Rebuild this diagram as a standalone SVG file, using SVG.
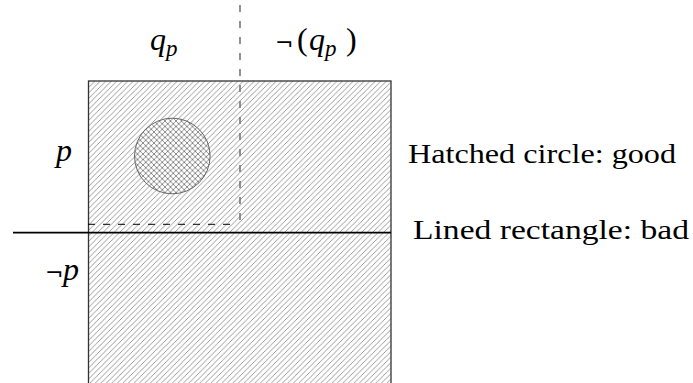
<svg xmlns="http://www.w3.org/2000/svg" width="693" height="383" viewBox="0 0 693 383">
<style>
.lbl{font-family:"Liberation Serif","DejaVu Serif",serif;font-size:28px;fill:#000}
.math{font-family:"Liberation Serif","DejaVu Serif",serif;font-style:italic;font-size:32px;fill:#000}
.up{font-style:normal}
.neg{font-family:"DejaVu Sans",sans-serif;font-style:normal;font-size:22px}
.sub{font-size:23px}
</style>
<defs>
<pattern id="hatch" patternUnits="userSpaceOnUse" width="5.5" height="5.5">
<path d="M-1,6.5 L6.5,-1 M-1,1 L1,-1 M4.5,6.5 L6.5,4.5" stroke="#888" stroke-width="0.85" fill="none"/>
</pattern>
<pattern id="cross" patternUnits="userSpaceOnUse" width="5.5" height="5.5">
<path d="M-1,6.5 L6.5,-1 M-1,1 L1,-1 M4.5,6.5 L6.5,4.5 M-1,-1 L6.5,6.5 M4.5,-1 L6.5,1 M-1,4.5 L1,6.5" stroke="#6f6f6f" stroke-width="0.8" fill="none"/>
</pattern>
</defs>
<g id="rectangle">
<rect x="88.5" y="81" width="302.5" height="304" fill="#fff"/>
<rect x="88.5" y="81" width="302.5" height="304" fill="url(#hatch)" stroke="#333" stroke-width="1.3"/>
</g>
<g id="circle">
<circle cx="172.3" cy="156" r="37.8" fill="#fff"/>
<circle cx="172.3" cy="156" r="37.8" fill="url(#cross)" stroke="#666" stroke-width="1"/>
</g>
<g id="connectors">
<line x1="240" y1="5" x2="240" y2="224" stroke="#777" stroke-width="1.6" stroke-dasharray="7 9"/>
<line x1="88" y1="224.3" x2="237" y2="224.3" stroke="#000" stroke-width="1" stroke-dasharray="7 8"/>
<line x1="13" y1="232.6" x2="391" y2="232.6" stroke="#000" stroke-width="1.6"/>
</g>
<g id="label-qp"><text class="math" x="150" y="50">q<tspan class="sub" dy="6">p</tspan></text></g>
<g id="label-not-qp"><text class="math" x="275" y="50"><tspan class="neg">¬</tspan><tspan class="up" x="297">(</tspan><tspan x="309">q</tspan><tspan class="sub" dy="6">p</tspan><tspan class="up" dy="-6" x="346">)</tspan></text></g>
<g id="label-not-p"><text class="math" x="45" y="280"><tspan class="neg">¬</tspan><tspan x="63">p</tspan></text></g>
<g id="label-p"><text class="math" x="56" y="161">p</text></g>
<g id="legend-good"><text class="lbl" x="408" y="163" textLength="268" lengthAdjust="spacingAndGlyphs">Hatched circle: good</text></g>
<g id="legend-bad"><text class="lbl" x="413" y="239" textLength="276" lengthAdjust="spacingAndGlyphs">Lined rectangle: bad</text></g>
</svg>
